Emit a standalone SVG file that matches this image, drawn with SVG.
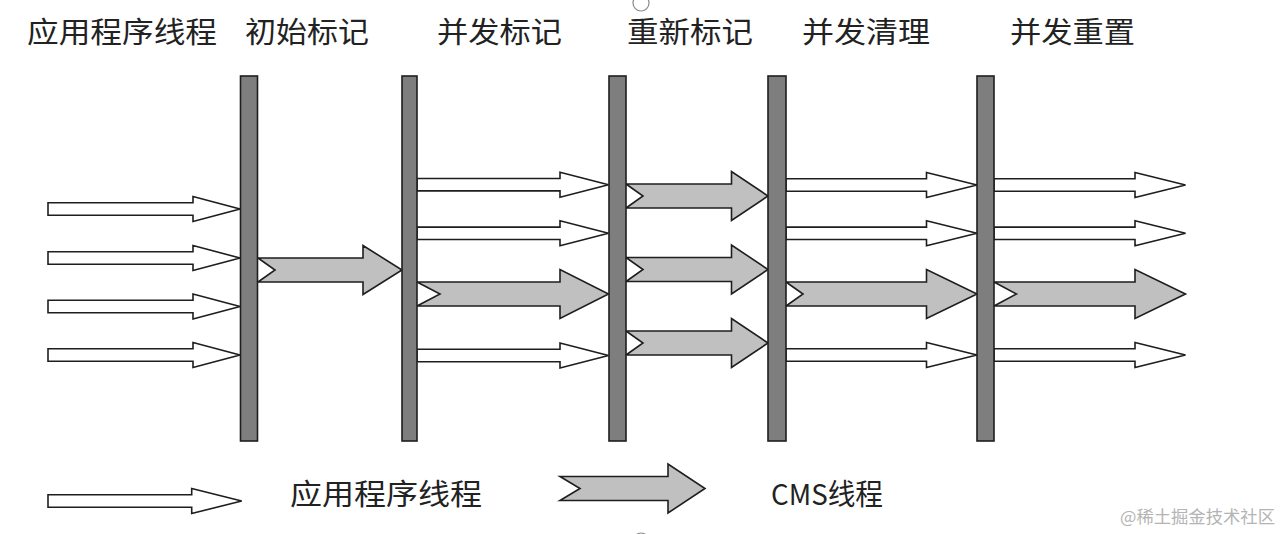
<svg xmlns="http://www.w3.org/2000/svg" width="1284" height="534" viewBox="0 0 1284 534">
<style>
.bg{fill:#ffffff}
.bar{fill:#7e7e7e;stroke:#1e1e1e;stroke-width:1.6}
.app{fill:#ffffff;stroke:#1e1e1e;stroke-width:1.6;stroke-linejoin:miter}
.cms{fill:#c0c0c0;stroke:#1e1e1e;stroke-width:1.6;stroke-linejoin:miter}
.t{font-family:"Noto Sans CJK SC","Noto Sans",sans-serif;font-size:29px;fill:#222222}
.wm{font-family:"Noto Sans CJK SC","Noto Sans",sans-serif;font-size:17px;fill:#b4b4b4}
.dot{fill:none;stroke:#888888;stroke-width:1.2}
</style>
<rect class="bg" x="0" y="0" width="1284" height="534"/>
<circle class="dot" cx="641" cy="3" r="8"/>
<circle class="dot" cx="641" cy="541" r="8"/>

<g id="titles">
<text class="t" x="27" y="43" textLength="190" lengthAdjust="spacingAndGlyphs">应用程序线程</text>
<text class="t" x="245" y="43" textLength="124" lengthAdjust="spacingAndGlyphs">初始标记</text>
<text class="t" x="437" y="43" textLength="125" lengthAdjust="spacingAndGlyphs">并发标记</text>
<text class="t" x="627" y="43" textLength="126" lengthAdjust="spacingAndGlyphs">重新标记</text>
<text class="t" x="802" y="43" textLength="128" lengthAdjust="spacingAndGlyphs">并发清理</text>
<text class="t" x="1010" y="43" textLength="125" lengthAdjust="spacingAndGlyphs">并发重置</text>
</g>

<g id="connectors">
<!-- application threads before initial mark -->
<path class="app" d="M48,202.8 L193,202.8 L193,196.5 L240,209 L193,221.5 L193,215.2 L48,215.2 Z"/>
<path class="app" d="M48,251.8 L193,251.8 L193,245.5 L240,258 L193,270.5 L193,264.2 L48,264.2 Z"/>
<path class="app" d="M48,300.3 L193,300.3 L193,294 L240,306.5 L193,319 L193,312.7 L48,312.7 Z"/>
<path class="app" d="M48,348.8 L193,348.8 L193,342.5 L240,355 L193,367.5 L193,361.2 L48,361.2 Z"/>
<!-- initial mark -> concurrent mark -->
<path class="cms" d="M258,258 L363,258 L363,245.5 L402,270 L363,294.5 L363,282 L258,282 L275,270 Z"/>
<!-- concurrent mark -> remark -->
<path class="app" d="M417,178.5 L560,178.5 L560,172.2 L608.5,184.7 L560,197.2 L560,190.9 L417,190.9 Z"/>
<path class="app" d="M417,227.1 L560,227.1 L560,220.8 L608.5,233.3 L560,245.8 L560,239.5 L417,239.5 Z"/>
<path class="cms" d="M417,282 L560,282 L560,269.5 L608.5,294 L560,318.5 L560,306 L417,306 L440,294 Z"/>
<path class="app" d="M417,349.3 L560,349.3 L560,343 L608.5,355.5 L560,368 L560,361.7 L417,361.7 Z"/>
<!-- remark -> concurrent sweep -->
<path class="cms" d="M626,184 L731.5,184 L731.5,171.5 L768,196 L731.5,220.5 L731.5,208 L626,208 L643,196 Z"/>
<path class="cms" d="M626,257.5 L731.5,257.5 L731.5,245 L768,269.5 L731.5,294 L731.5,281.5 L626,281.5 L643,269.5 Z"/>
<path class="cms" d="M626,331 L731.5,331 L731.5,318.5 L768,343 L731.5,367.5 L731.5,355 L626,355 L643,343 Z"/>
<!-- concurrent sweep -> concurrent reset -->
<path class="app" d="M786,178.8 L926.5,178.8 L926.5,172.5 L977,185 L926.5,197.5 L926.5,191.2 L786,191.2 Z"/>
<path class="app" d="M786,227.1 L926.5,227.1 L926.5,220.8 L977,233.3 L926.5,245.8 L926.5,239.5 L786,239.5 Z"/>
<path class="cms" d="M786,282 L926.5,282 L926.5,269.5 L977,294 L926.5,318.5 L926.5,306 L786,306 L803,294 Z"/>
<path class="app" d="M786,348.8 L926.5,348.8 L926.5,342.5 L977,355 L926.5,367.5 L926.5,361.2 L786,361.2 Z"/>
<!-- after concurrent reset -->
<path class="app" d="M994,178.8 L1135,178.8 L1135,172.5 L1185.5,185 L1135,197.5 L1135,191.2 L994,191.2 Z"/>
<path class="app" d="M994,227.1 L1135,227.1 L1135,220.8 L1185.5,233.3 L1135,245.8 L1135,239.5 L994,239.5 Z"/>
<path class="cms" d="M994,282 L1135,282 L1135,269.5 L1185.5,294 L1135,318.5 L1135,306 L994,306 L1016.5,294 Z"/>
<path class="app" d="M994,348.8 L1135,348.8 L1135,342.5 L1185.5,355 L1135,367.5 L1135,361.2 L994,361.2 Z"/>
</g>

<g id="bar-initial-mark"><rect class="bar" x="240.5" y="76" width="17" height="365"/></g>
<g id="bar-concurrent-mark"><rect class="bar" x="402" y="76" width="15" height="365"/></g>
<g id="bar-remark"><rect class="bar" x="609" y="76" width="17" height="365"/></g>
<g id="bar-concurrent-sweep"><rect class="bar" x="768" y="76" width="18" height="365"/></g>
<g id="bar-concurrent-reset"><rect class="bar" x="977" y="76" width="17" height="365"/></g>

<g id="legend-app">
<path class="app" d="M48,494.8 L191.7,494.8 L191.7,488.5 L241.7,501 L191.7,513.5 L191.7,507.2 L48,507.2 Z"/>
<text class="t" x="290" y="505" textLength="192" lengthAdjust="spacingAndGlyphs">应用程序线程</text>
</g>
<g id="legend-cms">
<path class="cms" d="M560,476.5 L668,476.5 L668,464 L705,488.5 L668,513 L668,500.5 L560,500.5 L580,488.5 Z"/>
<text class="t" x="771" y="505" textLength="112" lengthAdjust="spacingAndGlyphs">CMS线程</text>
</g>
<text class="wm" x="1120" y="523" textLength="155" lengthAdjust="spacingAndGlyphs">@稀土掘金技术社区</text>
</svg>
